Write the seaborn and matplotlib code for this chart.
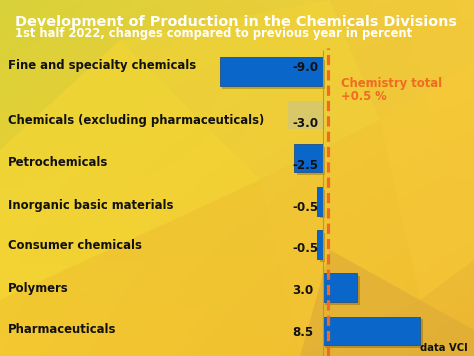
import numpy as np
import pandas as pd
import matplotlib
matplotlib.use("Agg")
import matplotlib.pyplot as plt
import matplotlib.patheffects as pe
from matplotlib.patches import Polygon
import seaborn as sns

# ---- data ----
categories = [
    "Fine and specialty chemicals",
    "Chemicals (excluding pharmaceuticals)",
    "Petrochemicals",
    "Inorganic basic materials",
    "Consumer chemicals",
    "Polymers",
    "Pharmaceuticals",
]
values = [-9.0, -3.0, -2.5, -0.5, -0.5, 3.0, 8.5]
total_change = 0.5
title = "Development of Production in the Chemicals Divisions"
subtitle = "1st half 2022, changes compared to previous year in percent"
total_label = "Chemistry total\n+0.5 %"
source = "data VCI"

# ---- style ----
BLUE = "#0a66c8"
BEIGE = "#d8c868"
ORANGE = "#f06a24"
palette = {c: BLUE for c in categories}
palette["Chemicals (excluding pharmaceuticals)"] = BEIGE

W, H = 474, 356
fig = plt.figure(figsize=(W / 100, H / 100), dpi=100)

# background
bg = fig.add_axes([0, 0, 1, 1], zorder=-5)
bg.set_axis_off()
tl = np.array(matplotlib.colors.to_rgb("#d8d23a"))
tr = np.array(matplotlib.colors.to_rgb("#f4cc3a"))
bl = np.array(matplotlib.colors.to_rgb("#f4cc30"))
br = np.array(matplotlib.colors.to_rgb("#ecb632"))
u = np.linspace(0, 1, 120)[None, :, None]
v = np.linspace(0, 1, 90)[:, None, None]
img = (1 - v) * ((1 - u) * tl + u * tr) + v * ((1 - u) * bl + u * br)
bg.imshow(img, extent=[0, W, H, 0], aspect="auto")
facets = [
    ([(0, 150), (120, 40), (260, 180), (0, 300)], "#f8d834", 0.55),
    ([(120, 40), (330, 0), (380, 120), (260, 180)], "#f4d43a", 0.45),
    ([(380, 120), (474, 60), (474, 260), (420, 300)], "#f8ca38", 0.55),
    ([(260, 180), (380, 120), (420, 300), (300, 356)], "#f6c632", 0.45),
    ([(300, 356), (330, 250), (474, 330), (474, 356)], "#dcaa38", 0.6),
    ([(0, 300), (260, 180), (300, 356), (0, 356)], "#f4c430", 0.45),
    ([(330, 0), (474, 0), (474, 60), (380, 120)], "#f0c83a", 0.5),
]
for pts, col, a in facets:
    bg.add_patch(Polygon(pts, closed=True, facecolor=col, edgecolor="none", alpha=a))
bg.set_xlim(0, W)
bg.set_ylim(H, 0)

# main axes
ax = fig.add_axes([0, 0, 1, 1])
ax.patch.set_alpha(0)
df = pd.DataFrame({"category": categories, "value": values})
sns.barplot(data=df, y="category", x="value", hue="category", palette=palette,
            order=categories, orient="h", width=0.66, legend=False, ax=ax,
            edgecolor="#2a5a8a", linewidth=0.7, saturation=1)
for p, c in zip(ax.patches, categories):
    if palette[c] == BLUE:
        p.set_path_effects([pe.SimplePatchShadow(offset=(2, -2), alpha=0.3,
                                                 shadow_rgbFace="#5a4000"),
                            pe.Normal()])
    else:
        p.set_edgecolor("none")

x0 = 322.7
pxu = 11.45
ax.set_xlim(-x0 / pxu, (W - x0) / pxu)
ax.set_ylim((H - 71.7) / 43.2, -71.7 / 43.2)
ax.set_axis_off()

# zero line and total line
ax.vlines(0, -0.5, 7, color="#a89a5a", lw=0.8, zorder=1)
ln = ax.axvline(total_change, ymin=0, ymax=1 - 48 / H, color=ORANGE, lw=2.3, zorder=5)
ln.set_dashes((3.2, 1.6))

trans = matplotlib.transforms.blended_transform_factory(fig.transFigure, ax.transData)
cat_dy = [-0.15, 0.14, 0.11, 0.09, 0.03, 0.01, -0.04]
val_dy = [-0.1, 0.19, 0.16, 0.15, 0.09, 0.07, 0.04]
for i, (c, val) in enumerate(zip(categories, values)):
    ax.text(8 / W, i + cat_dy[i], c, transform=trans, ha="left", va="center",
            fontsize=8.4, fontweight="bold", color="#111111")
    ax.text(292 / W, i + val_dy[i], f"{val:.1f}", transform=trans, ha="left",
            va="center", fontsize=8.6, fontweight="bold", color="#111111", zorder=6)

fig.text(15 / W, 1 - 26 / H, title, ha="left", va="baseline", fontsize=10.35,
         fontweight="bold", color="white")
fig.text(15 / W, 1 - 37.5 / H, subtitle, ha="left", va="baseline", fontsize=8.3,
         fontweight="bold", color="white")
fig.text(341 / W, 1 - 77 / H, total_label, ha="left", va="top", fontsize=8.4,
         fontweight="bold", color=ORANGE, linespacing=1.05)
fig.text(468 / W, 1 - 351 / H, source, ha="right", va="baseline", fontsize=7.2,
         fontweight="bold", color="#111111")

fig.savefig("out.png", dpi=100)
